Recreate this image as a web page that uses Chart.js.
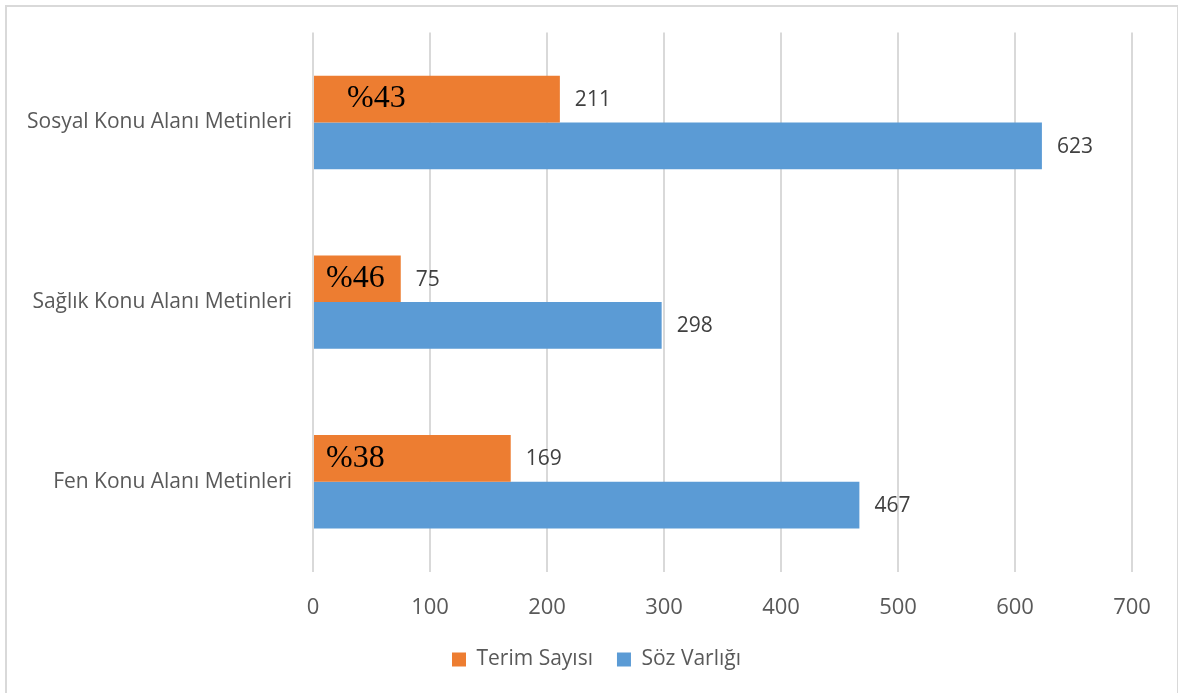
<!DOCTYPE html>
<html>
<head>
<meta charset="utf-8">
<script src="https://cdn.jsdelivr.net/npm/chart.js@4"></script>
<style>
  html, body { margin: 0; padding: 0; background: #fff; overflow: hidden; }
  .frame {
    position: absolute; left: 5px; top: 5px;
    width: 1170px; height: 700px;
    border: 2px solid #d9d9d9; border-bottom: none;
  }
  .frame canvas { position: absolute; left: 0; top: 0; }
</style>
</head>
<body>
<div class="frame"><canvas id="myChart" width="1170" height="681"></canvas></div>
<script>
// Categories
const categories = ["Sosyal Konu Alanı Metinleri", "Sağlık Konu Alanı Metinleri", "Fen Konu Alanı Metinleri"];

// Series
const termCounts = [211, 75, 169];
const vocabCounts = [623, 298, 467];

// Share of terms, written inside the orange bars
const termShares = ["%43", "%46", "%38"];

// Axis ticks
const xTicks = [0, 100, 200, 300, 400, 500, 600, 700];

const orange = "#ed7d31";
const blue = "#5b9bd5";
const labelFont = "'Open Sans', 'Noto Sans', sans-serif";

// Writes the value next to the end of each bar
const valueLabels = {
  id: "valueLabels",
  afterDatasetsDraw(chart) {
    const ctx = chart.ctx;
    ctx.save();
    ctx.font = "21px " + labelFont;
    ctx.fillStyle = "#404040";
    ctx.textBaseline = "middle";
    ctx.textAlign = "left";
    chart.data.datasets.forEach((ds, i) => {
      chart.getDatasetMeta(i).data.forEach((bar, j) => {
        ctx.fillText(ds.data[j], bar.x + 15, bar.y + 1);
      });
    });
    ctx.restore();
  }
};

// Writes the percentage inside the orange bars
const shareLabels = {
  id: "shareLabels",
  afterDatasetsDraw(chart, args, opts) {
    const ctx = chart.ctx;
    ctx.save();
    ctx.font = "32px 'Liberation Serif', 'DejaVu Serif', serif";
    ctx.fillStyle = "#000";
    ctx.textBaseline = "middle";
    ctx.textAlign = "left";
    chart.getDatasetMeta(0).data.forEach((bar, j) => {
      ctx.fillText(termShares[j], bar.base + opts.offsets[j], bar.y);
    });
    ctx.restore();
  }
};

// Nudges the legend a little to the right of the canvas centre
const legendShift = {
  id: "legendShift",
  afterLayout(chart, args, opts) {
    chart.legend.left += opts.dx;
    chart.legend.right += opts.dx;
  }
};

const ctx = document.getElementById("myChart").getContext("2d");
const myChart = new Chart(ctx, {
  type: "bar",
  data: {
    labels: categories,
    datasets: [
      { label: "Terim Sayısı", data: termCounts, backgroundColor: orange },
      { label: "Söz Varlığı", data: vocabCounts, backgroundColor: blue }
    ]
  },
  options: {
    indexAxis: "y",
    responsive: false,
    animation: false,
    categoryPercentage: 0.52,
    barPercentage: 1,
    layout: { padding: { top: 19, right: 45, left: 0, bottom: 8 } },
    scales: {
      x: {
        min: 0,
        max: 700,
        afterBuildTicks: (axis) => { axis.ticks = xTicks.map(v => ({ value: v })); },
        afterFit: (axis) => { axis.height -= 19; },
        grid: { color: "#d9d9d9", lineWidth: 2, drawTicks: false },
        border: { display: false },
        ticks: { color: "#595959", padding: 23, font: { size: 22, family: labelFont } }
      },
      y: {
        afterFit: (axis) => { axis.width = 306; },
        grid: { display: false },
        border: { display: false },
        ticks: { color: "#595959", padding: 13, font: { size: 21, family: labelFont } }
      }
    },
    plugins: {
      legend: {
        position: "bottom",
        labels: {
          color: "#595959",
          boxWidth: 14,
          boxHeight: 14,
          padding: 24,
          font: { size: 21, family: labelFont }
        }
      },
      tooltip: { enabled: false },
      shareLabels: { offsets: [33, 12, 12] },
      legendShift: { dx: 27 }
    }
  },
  plugins: [valueLabels, shareLabels, legendShift]
});
</script>
</body>
</html>
